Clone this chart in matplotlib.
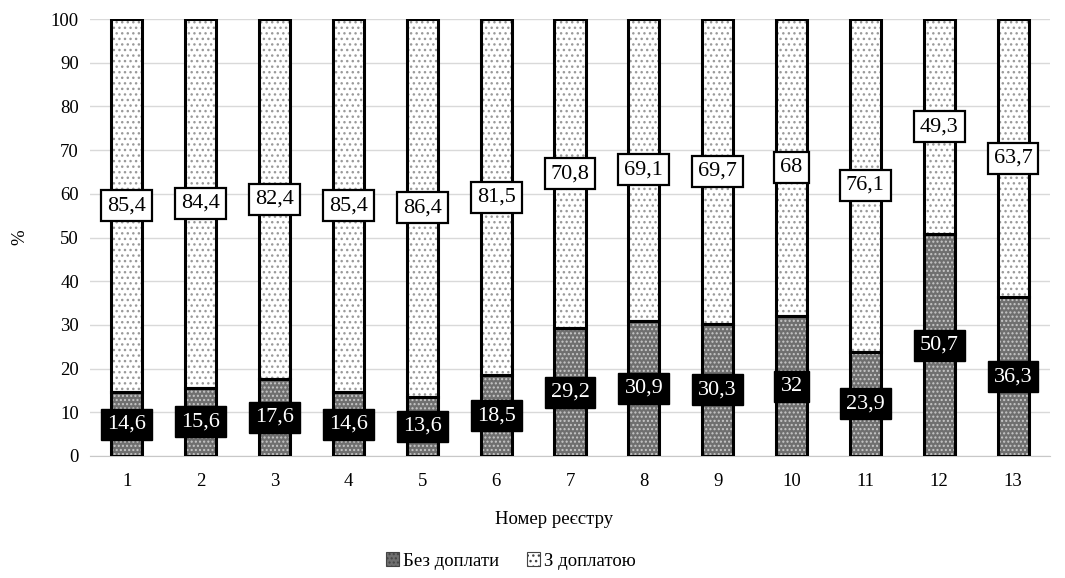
import matplotlib.pyplot as plt
import numpy as np

plt.rcParams['font.family'] = ['Liberation Serif', 'DejaVu Serif']
plt.rcParams['hatch.linewidth'] = 1.0

registers = [str(i) for i in range(1, 14)]
no_surcharge = [14.6, 15.6, 17.6, 14.6, 13.6, 18.5, 29.2, 30.9, 30.3, 32, 23.9, 50.7, 36.3]
with_surcharge = [85.4, 84.4, 82.4, 85.4, 86.4, 81.5, 70.8, 69.1, 69.7, 68, 76.1, 49.3, 63.7]

def fmt(v):
    return ('%g' % v).replace('.', ',')

fig = plt.figure(figsize=(10.65, 5.78), dpi=100)
ax = fig.add_axes([90 / 1065, 1 - 456 / 578, 960 / 1065, 437 / 578])

x = np.arange(1, 14)
w = 0.42

# patterned fills (hatch colour comes from edgecolor), then black outlines on top
ax.bar(x, no_surcharge, w, color='#6f6f6f', edgecolor='#c8c8c8', hatch='....', lw=0, zorder=2)
ax.bar(x, with_surcharge, w, bottom=no_surcharge, color='white', edgecolor='#9a9a9a',
       hatch='...', lw=0, zorder=2)
ax.bar(x, no_surcharge, w, fill=False, edgecolor='black', lw=2.2, zorder=3)
ax.bar(x, with_surcharge, w, bottom=no_surcharge, fill=False, edgecolor='black', lw=2.2, zorder=3)

for xi, a, b in zip(x, no_surcharge, with_surcharge):
    ax.text(xi, a / 2, fmt(a), ha='center', va='center', fontsize=16, color='white', zorder=5,
            bbox=dict(boxstyle='square,pad=0.27', fc='black', ec='black'))
    ax.text(xi, a + b / 2, fmt(b), ha='center', va='center', fontsize=16, color='black', zorder=5,
            bbox=dict(boxstyle='square,pad=0.27', fc='white', ec='black', lw=1.6))

ax.set_xlim(0.5, 13.5)
ax.set_ylim(0, 100)
ax.set_yticks(range(0, 101, 10))
ax.set_xticks(x)
ax.set_xticklabels(registers)
ax.tick_params(length=0, labelsize=13.5)
ax.tick_params(axis='x', pad=12)
ax.tick_params(axis='y', pad=8)
ax.grid(axis='y', color='#d9d9d9', lw=1, zorder=0)
ax.set_axisbelow(True)
for s in ['top', 'right', 'left']:
    ax.spines[s].set_visible(False)
ax.spines['bottom'].set_color('#c8c8c8')

ax.set_ylabel('%', fontsize=13.5)
ax.yaxis.set_label_coords(-62 / 960, 0.5)
ax.set_xlabel('Номер реєстру', fontsize=13.5)
ax.xaxis.set_label_coords((554 - 90) / 960, -55 / 437)

h1 = plt.Rectangle((0, 0), 1, 1, fc='#6f6f6f', ec='#444444', hatch='....', lw=0.8)
h2 = plt.Rectangle((0, 0), 1, 1, fc='white', ec='#444444', hatch='...', lw=0.8)
fig.legend([h1, h2], ['Без доплати', 'З доплатою'], loc='center',
           bbox_to_anchor=(511 / 1065, 1 - 561 / 578), ncol=2, frameon=False,
           fontsize=13.5, handlelength=0.7, handleheight=0.7, handletextpad=0.2,
           columnspacing=1.5)

fig.savefig('out.png', dpi=100)
